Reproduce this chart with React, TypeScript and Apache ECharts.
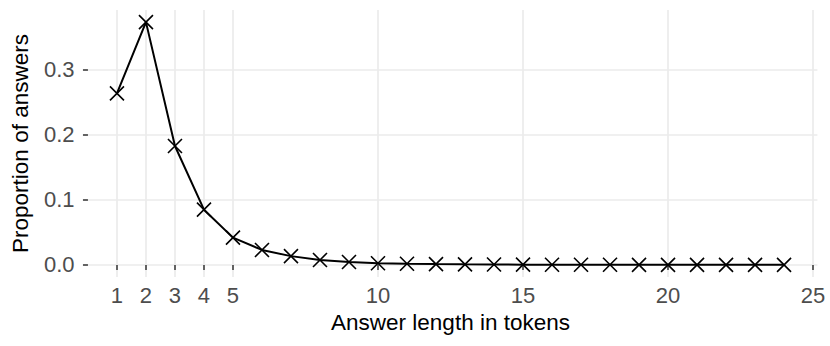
import React, { useEffect, useRef } from "react";
import * as echarts from "echarts";

const tokenLengths = [1, 2, 3, 4, 5, 6, 7, 8, 9, 10, 11, 12, 13, 14, 15, 16, 17, 18, 19, 20, 21, 22, 23, 24];
const proportions = [
  0.264, 0.3736, 0.183, 0.085, 0.042, 0.023, 0.0135, 0.0075, 0.0045, 0.0025, 0.0017, 0.0012,
  0.0008, 0.0006, 0.0004, 0.0003, 0.0002, 0.00015, 0.0001, 0.0001, 0.00008, 0.00006, 0.00005, 0.00004,
];
const xTickValues = [1, 2, 3, 4, 5, 10, 15, 20, 25];
const yTickValues = [0, 0.1, 0.2, 0.3];
const xTitle = "Answer length in tokens";
const yTitle = "Proportion of answers";

const FONT = "'Liberation Sans', Arial, Helvetica, sans-serif";

export default function App() {
  const ref = useRef<HTMLDivElement>(null);
  useEffect(() => {
    if (!ref.current) return;
    const chart = echarts.init(ref.current, null, { renderer: "svg" });
    const xMinD = Math.min(...tokenLengths);
    const xMaxD = Math.max(...tokenLengths);
    const xr = xMaxD - xMinD;
    const yMinD = Math.min(...proportions);
    const yMaxD = Math.max(...proportions);
    const yr = yMaxD - yMinD;
    const pts = tokenLengths.map((x, i) => [x, proportions[i]]);
    chart.setOption({
      animation: false,
      backgroundColor: "#ffffff",
      textStyle: { fontFamily: FONT },
      grid: { left: 83.6, right: 12.6, top: 10, bottom: 69, containLabel: false },
      xAxis: {
        type: "value",
        min: xMinD - 0.05 * xr,
        max: xMaxD + 0.05 * xr,
        name: xTitle,
        nameLocation: "middle",
        nameGap: 31,
        nameTextStyle: { color: "#000000", fontSize: 22.5, fontFamily: FONT },
        axisLine: { show: false },
        axisTick: { show: true, customValues: xTickValues, length: 5, lineStyle: { color: "#333333", width: 1.5 } },
        axisLabel: {
          customValues: xTickValues,
          color: "#4D4D4D",
          fontSize: 22,
          fontFamily: FONT,
          margin: 7,
        },
        splitLine: { show: true, lineStyle: { color: "#EBEBEB", width: 1.7 } },
      },
      yAxis: {
        type: "value",
        min: yMinD - 0.05 * yr,
        max: yMaxD + 0.05 * yr,
        name: yTitle,
        nameLocation: "middle",
        nameGap: 52,
        nameTextStyle: { color: "#000000", fontSize: 22.5, fontFamily: FONT },
        axisLine: { show: false },
        axisTick: { show: true, customValues: yTickValues, length: 5, lineStyle: { color: "#333333", width: 1.5 } },
        axisLabel: {
          customValues: yTickValues,
          color: "#4D4D4D",
          fontSize: 22,
          fontFamily: FONT,
          margin: 9,
          formatter: (v: number) => v.toFixed(1),
        },
        splitLine: { show: true, lineStyle: { color: "#EBEBEB", width: 1.7 } },
      },
      series: [
        {
          type: "line",
          data: pts,
          smooth: false,
          lineStyle: { color: "#000000", width: 2 },
          symbol: "path://M0,0L10,10M10,0L0,10",
          symbolSize: 14,
          showSymbol: true,
          itemStyle: { color: "none", borderColor: "#000000", borderWidth: 1.6 },
          z: 3,
        },
      ],
    });
    return () => chart.dispose();
  }, []);
  return (
    <div
      ref={ref}
      style={{ position: "fixed", left: 0, top: 0, width: 830, height: 346, background: "#fff" }}
    />
  );
}
